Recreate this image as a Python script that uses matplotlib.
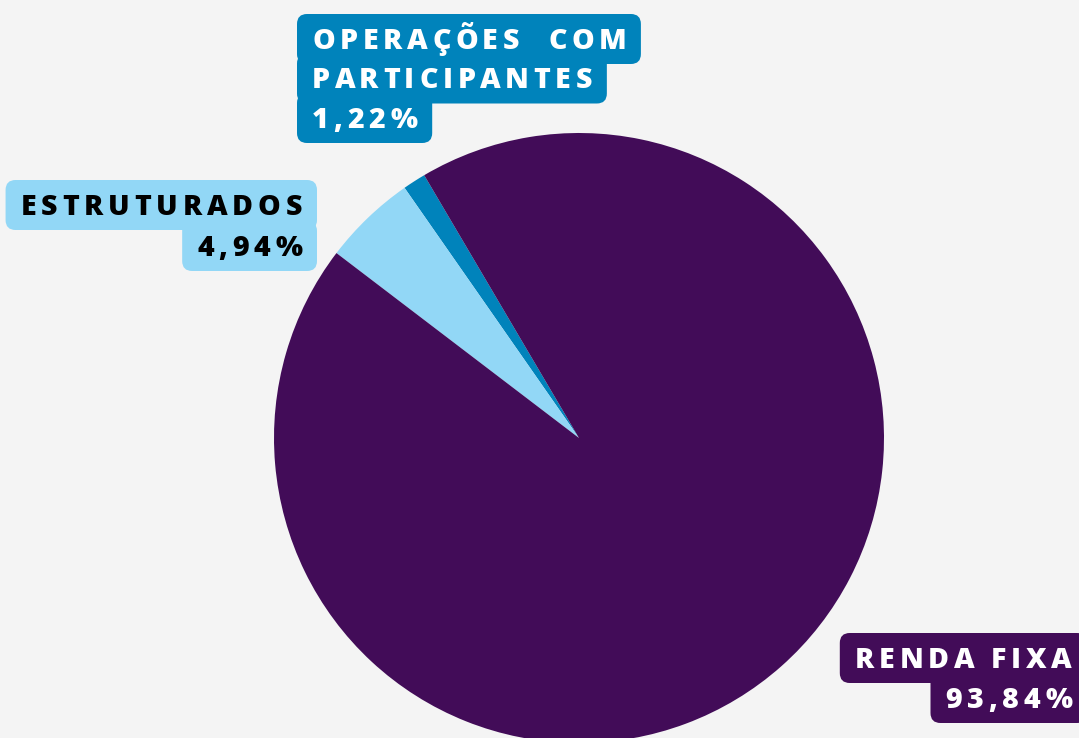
import matplotlib
matplotlib.use("Agg")
import matplotlib.pyplot as plt
from matplotlib.patches import FancyBboxPatch
from matplotlib.font_manager import FontProperties

# data
labels = ["OPERAÇÕES  COM\nPARTICIPANTES", "ESTRUTURADOS", "RENDA FIXA"]
values = [1.22, 4.94, 93.84]
pct_text = ["1,22%", "4,94%", "93,84%"]

BG = "#F4F4F4"
COLORS = ["#0083BB", "#92D7F6", "#420C58"]
TEXT_COLORS = ["white", "black", "white"]

W, H = 1079, 738
fig = plt.figure(figsize=(W / 100, H / 100), dpi=100)
fig.patch.set_facecolor(BG)
ax = fig.add_axes([0, 0, 1, 1])
ax.set_facecolor(BG)

# pie in pixel coordinates (y axis inverted -> draw clockwise in data)
ax.pie(values, colors=COLORS, startangle=-120.5, counterclock=False,
       center=(579, 438), radius=305, wedgeprops=dict(linewidth=0))
ax.set_xlim(0, W)
ax.set_ylim(H, 0)
ax.set_aspect("auto")
ax.axis("off")

fp = FontProperties(family="Open Sans", weight="heavy", size=20.5)
renderer = fig.canvas.get_renderer()
TRACK = 4.8   # extra letter spacing, px
CAP = 20      # cap height, px


def text_w(s):
    w, _, _ = renderer.get_text_width_height_descent(s + "x", fp, ismath=False)
    wx, _, _ = renderer.get_text_width_height_descent("x", fp, ismath=False)
    return w - wx


def spaced_width(s):
    return text_w(s) + TRACK * (len(s) - 1)


def draw_spaced(x, y, s, color, align="left"):
    total = spaced_width(s)
    x0 = x if align == "left" else x - total
    for i, ch in enumerate(s):
        if ch == " ":
            continue
        xi = x0 + text_w(s[:i]) + TRACK * i
        ax.text(xi, y, ch, fontproperties=fp, color=color,
                ha="left", va="baseline", zorder=5)
    return x0, x0 + total


def label_block(lines, x, y0, color, tcolor, align, lh=39.5):
    for k, s in enumerate(lines):
        y = y0 + k * lh
        xl, xr = draw_spaced(x, y, s, tcolor, align)
        top = y - CAP - 15
        bot = y + 15
        ax.add_patch(FancyBboxPatch((xl - 15, top), (xr - xl) + 30, bot - top,
                                    boxstyle="round,pad=0,rounding_size=10",
                                    facecolor=color, edgecolor="none", zorder=4))


label_block(labels[0].split("\n") + [pct_text[0]], 312, 49, COLORS[0], TEXT_COLORS[0], "left")
label_block([labels[1], pct_text[1]], 302, 215, COLORS[1], TEXT_COLORS[1], "right", lh=41)
label_block([labels[2], pct_text[2]], 1072, 668, COLORS[2], TEXT_COLORS[2], "right", lh=40)

fig.savefig("out.png", dpi=100, facecolor=BG)
